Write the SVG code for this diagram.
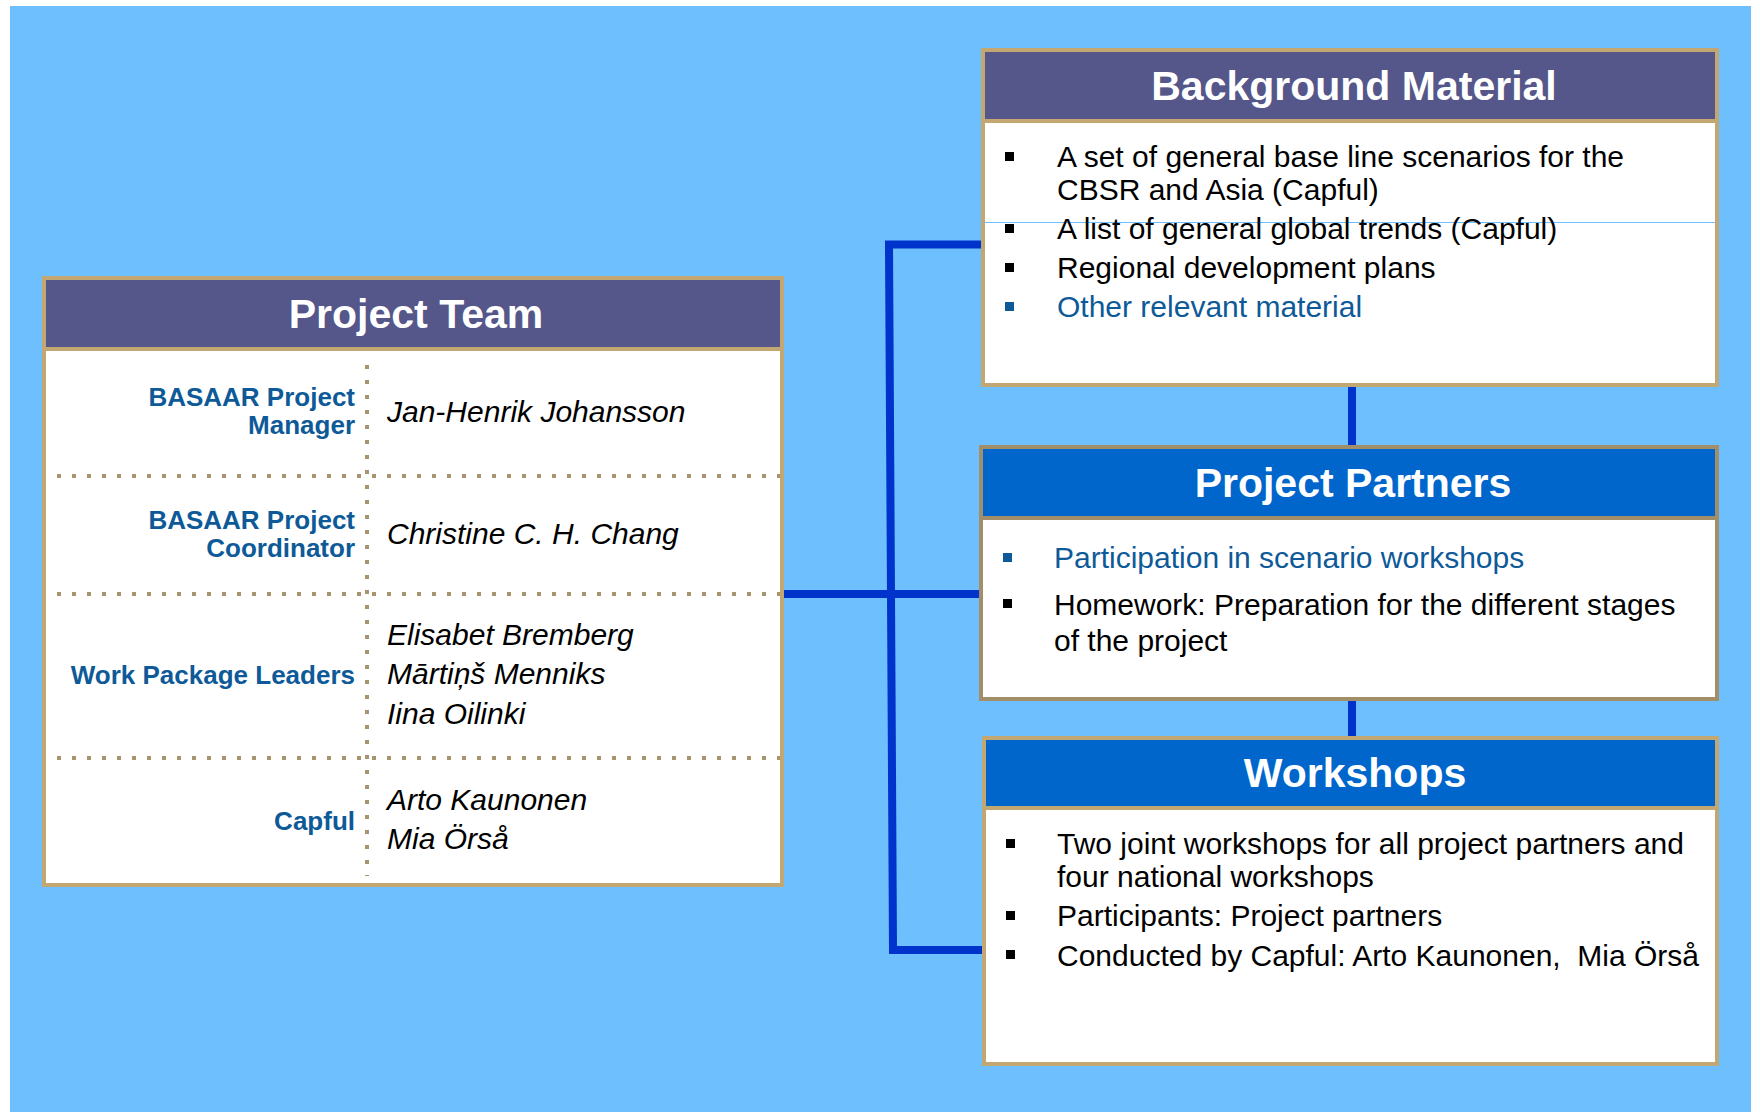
<svg xmlns="http://www.w3.org/2000/svg" width="1751" height="1112" viewBox="0 0 1751 1112">
<style>
.box{fill:#ffffff;stroke:#C3A773;stroke-width:4}
.pp{stroke:#A38E6A}
.hdrP{fill:#55568A}
.hdrB{fill:#0066CC}
.title{font-family:"Liberation Sans",Arial,sans-serif;font-weight:bold;font-size:41px;fill:#ffffff;text-anchor:middle}
.body{font-family:"Liberation Sans",Arial,sans-serif;font-size:30px;fill:#000000}
.blue{fill:#0E5A98}
.lbl{font-family:"Liberation Sans",Arial,sans-serif;font-weight:bold;font-size:26px;fill:#0E5A98;text-anchor:end}
.name{font-family:"Liberation Sans",Arial,sans-serif;font-style:italic;font-size:30px;fill:#000000}
.dot{stroke:#A8946E;stroke-width:4;stroke-dasharray:4 11;fill:none}
.conn{stroke:#0033CC;stroke-width:8;fill:none}
.bul{fill:#000000}
.bulb{fill:#0E5A98}
</style>
<rect x="0" y="0" width="1751" height="1112" fill="#ffffff"/>
<rect x="10" y="6" width="1741" height="1106" fill="#6DBFFE"/>

<g id="connectors">
<path class="conn" d="M981 244.5 L889 244.5 L893 950 L982 950"/>
<line class="conn" x1="784" y1="594" x2="979" y2="594"/>
<line class="conn" x1="1352" y1="387" x2="1352" y2="445"/>
<line class="conn" x1="1352" y1="701" x2="1352" y2="736"/>
</g>

<g id="project-team">
<rect class="box" x="44" y="278" width="738" height="607"/>
<rect class="hdrP" x="46" y="280" width="734" height="67"/>
<line x1="44" y1="349" x2="782" y2="349" stroke="#C3A773" stroke-width="4"/>
<text class="title" x="416" y="328">Project Team</text>
<line class="dot" x1="367" y1="365" x2="367" y2="876"/>
<line class="dot" x1="57" y1="476" x2="780" y2="476"/>
<line class="dot" x1="57" y1="594" x2="780" y2="594"/>
<line class="dot" x1="57" y1="758" x2="780" y2="758"/>
<text class="lbl" x="355" y="406">BASAAR Project</text>
<text class="lbl" x="355" y="434">Manager</text>
<text class="name" x="387" y="422">Jan-Henrik Johansson</text>
<text class="lbl" x="355" y="529">BASAAR Project</text>
<text class="lbl" x="355" y="557">Coordinator</text>
<text class="name" x="387" y="544">Christine C. H. Chang</text>
<text class="lbl" x="355" y="684">Work Package Leaders</text>
<text class="name" x="387" y="645">Elisabet Bremberg</text>
<text class="name" x="387" y="684">Mārtiņš Menniks</text>
<text class="name" x="387" y="724">Iina Oilinki</text>
<text class="lbl" x="355" y="830">Capful</text>
<text class="name" x="387" y="810">Arto Kaunonen</text>
<text class="name" x="387" y="849">Mia Örså</text>
</g>

<g id="background-material">
<rect class="box" x="983" y="50" width="734" height="335"/>
<rect class="hdrP" x="985" y="52" width="730" height="67"/>
<line x1="983" y1="121" x2="1717" y2="121" stroke="#C3A773" stroke-width="4"/>
<text class="title" x="1354" y="100">Background Material</text>
<line x1="985" y1="222.5" x2="1715" y2="222.5" stroke="#6DBFFE" stroke-width="1"/>
<rect class="bul" x="1005" y="152" width="9" height="9"/>
<text class="body" x="1057" y="167">A set of general base line scenarios for the</text>
<text class="body" x="1057" y="200">CBSR and Asia (Capful)</text>
<rect class="bul" x="1005" y="224" width="9" height="9"/>
<text class="body" x="1057" y="239">A list of general global trends (Capful)</text>
<rect class="bul" x="1005" y="263" width="9" height="9"/>
<text class="body" x="1057" y="278">Regional development plans</text>
<rect class="bulb" x="1005" y="302" width="9" height="9"/>
<text class="body blue" x="1057" y="317">Other relevant material</text>
</g>

<g id="project-partners">
<rect class="box pp" x="981" y="447" width="736" height="252"/>
<rect class="hdrB" x="983" y="449" width="732" height="67"/>
<line x1="981" y1="518" x2="1717" y2="518" stroke="#A38E6A" stroke-width="4"/>
<text class="title" x="1353" y="497">Project Partners</text>
<rect class="bulb" x="1003" y="553" width="9" height="9"/>
<text class="body blue" x="1054" y="568">Participation in scenario workshops</text>
<rect class="bul" x="1003" y="599" width="9" height="9"/>
<text class="body" x="1054" y="615">Homework: Preparation for the different stages</text>
<text class="body" x="1054" y="651">of the project</text>
</g>

<g id="workshops">
<rect class="box" x="984" y="738" width="733" height="326"/>
<rect class="hdrB" x="986" y="740" width="729" height="66"/>
<line x1="984" y1="808" x2="1717" y2="808" stroke="#C3A773" stroke-width="4"/>
<text class="title" x="1355" y="787">Workshops</text>
<rect class="bul" x="1006" y="839" width="9" height="9"/>
<text class="body" x="1057" y="854">Two joint workshops for all project partners and</text>
<text class="body" x="1057" y="887">four national workshops</text>
<rect class="bul" x="1006" y="911" width="9" height="9"/>
<text class="body" x="1057" y="926">Participants: Project partners</text>
<rect class="bul" x="1006" y="950" width="9" height="9"/>
<text class="body" x="1057" y="966" xml:space="preserve">Conducted by Capful: Arto Kaunonen,  Mia Örså</text>
</g>
</svg>
